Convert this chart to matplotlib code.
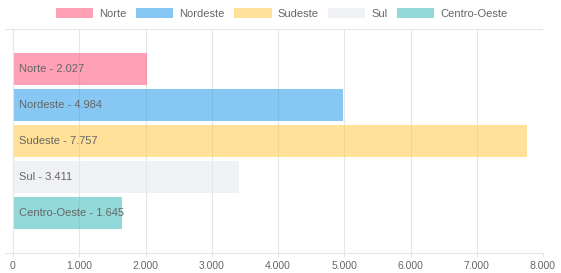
import matplotlib
matplotlib.use("Agg")
import matplotlib.pyplot as plt
from matplotlib.ticker import FuncFormatter, MultipleLocator

# dados por regiao
regioes = ["Norte", "Nordeste", "Sudeste", "Sul", "Centro-Oeste"]
valores = [2027, 4984, 7757, 3411, 1645]
cores = [(255/255, 99/255, 132/255, 0.6),
         (54/255, 162/255, 235/255, 0.6),
         (255/255, 206/255, 86/255, 0.6),
         (231/255, 233/255, 237/255, 0.6),
         (75/255, 192/255, 192/255, 0.6)]
x_max = 8000


def fmt_milhar(v):
    return "{:,.0f}".format(v).replace(",", ".")


plt.rcParams["font.family"] = ["Liberation Sans", "DejaVu Sans"]
texto_cor = "#666666"
grade_cor = "#e6e6e6"

W, H = 561, 273
fig = plt.figure(figsize=(W / 100, H / 100), dpi=100)
ax = fig.add_axes([13 / W, (H - 253) / H, (543 - 13) / W, (253 - 29) / H])

# 5 datasets num unico grupo (barPercentage 0.9, categoryPercentage 0.8)
n = len(regioes)
for i, (reg, val, cor) in enumerate(zip(regioes, valores, cores)):
    ax.barh(i, val, height=0.9, color=cor, label=reg, zorder=2)
    ax.annotate(reg + " - " + fmt_milhar(val), xy=(0, i), xytext=(4.5, 0),
                textcoords="offset points", va="center", ha="left",
                fontsize=8, color=texto_cor, zorder=3)

meia = n / 0.8 / 2
ax.set_ylim((n - 1) / 2 + meia, (n - 1) / 2 - meia)
ax.set_xlim(0, x_max)
ax.xaxis.set_major_locator(MultipleLocator(1000))
ax.xaxis.set_major_formatter(FuncFormatter(lambda v, p: fmt_milhar(v)))
ax.grid(axis="x", color=grade_cor, linewidth=0.8, zorder=0)
ax.set_axisbelow(True)

# linhas horizontais no topo e na base (limites da categoria)
ax.set_yticks([(n - 1) / 2 - meia, (n - 1) / 2 + meia])
ax.set_yticklabels([])
ax.tick_params(axis="y", length=6, color=grade_cor, width=0.8)
ax.grid(axis="y", color=grade_cor, linewidth=0.8, zorder=0)
ax.tick_params(axis="x", length=3, color=grade_cor, width=0.8,
               labelsize=7.5, labelcolor=texto_cor, pad=2.5)

for s in ["top", "right"]:
    ax.spines[s].set_visible(False)
for s in ["left", "bottom"]:
    ax.spines[s].set_color(grade_cor)
    ax.spines[s].set_linewidth(0.8)

fig.legend(loc="upper center", bbox_to_anchor=(0.502, 1.0), ncol=n,
           frameon=False, fontsize=8, labelcolor=texto_cor,
           handlelength=3.4, handleheight=1.0, handletextpad=0.55,
           columnspacing=0.8, borderaxespad=0.3)

fig.savefig("out.png", dpi=100)
